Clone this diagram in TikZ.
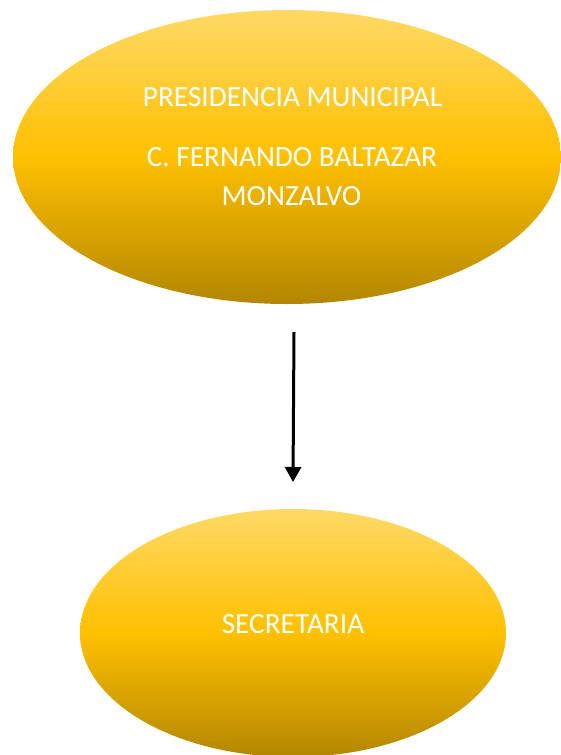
\documentclass[tikz,border=0pt]{standalone}
\usepackage{fontspec}
\setmainfont{Carlito}
\usetikzlibrary{shapes.geometric,arrows.meta}
\definecolor{goldtop}{HTML}{FFD966}
\definecolor{goldmid}{HTML}{FFC000}
\definecolor{goldbot}{HTML}{B38600}
\tikzset{
  goldell/.style={ellipse, inner sep=0pt, draw=none,
    top color=goldtop, bottom color=goldbot, middle color=goldmid},
  lbl/.style={text=white, font=\fontsize{29.3}{35}\selectfont, anchor=base, inner sep=0pt},
  conn/.style={line width=3pt, -{Triangle[width=16pt,length=15pt]}}
}
\begin{document}
\begin{tikzpicture}[x=1pt,y=-1pt]
\useasboundingbox (0,0) rectangle (561,755);
\node[goldell, minimum width=548pt, minimum height=294pt] (pres) at (287,157) {};
\node[goldell, minimum width=426pt, minimum height=248pt] (sec) at (293,633) {};
\node[lbl] (t1) at (292.5,106) {PRESIDENCIA MUNICIPAL};
\node[lbl] (t2) at (292,166) {C. FERNANDO BALTAZAR};
\node[lbl] (t3) at (291.5,205) {MONZALVO};
\node[lbl] (t4) at (293,633) {SECRETARIA};
\coordinate (a) at (294,332);
\coordinate (b) at (293,482);
\draw[conn] (a) -- (b);
\end{tikzpicture}
\end{document}
